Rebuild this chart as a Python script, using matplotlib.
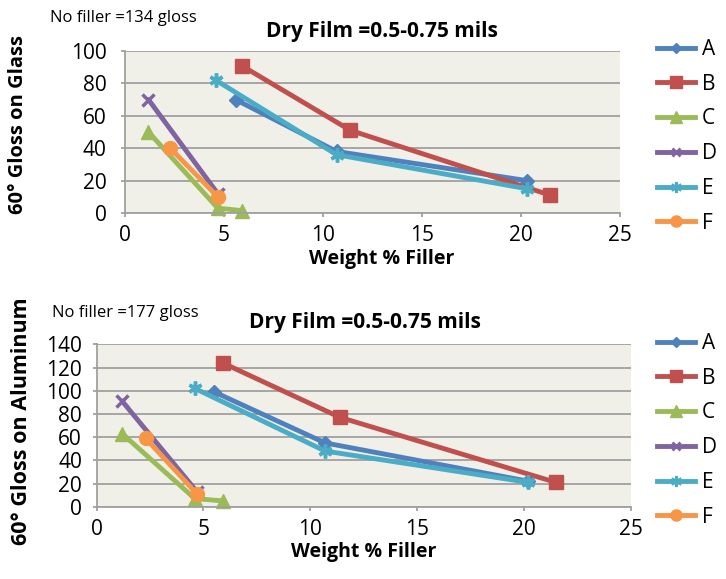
import numpy as np
import matplotlib.pyplot as plt
from matplotlib.lines import Line2D

plt.rcParams['font.family'] = ['Open Sans', 'DejaVu Sans']

serie = ['A', 'B', 'C', 'D', 'E', 'F']
kolory = ['#4F81BD', '#C0504D', '#9BBB59', '#8064A2', '#4BACC6', '#F79646']
markery = ['D', 's', '^', 'x', (6, 2, 0), 'o']
rozmiary = [7, 10, 10, 8, 10, 10]

# wykres gorny - szklo
szklo_x = {
    'A': [5.6, 10.7, 20.3],
    'B': [5.9, 11.4, 21.5],
    'C': [1.2, 4.7, 5.9],
    'D': [1.2, 4.7],
    'E': [4.6, 10.7, 20.3],
    'F': [2.3, 4.7],
}
szklo_y = {
    'A': [70, 38, 20],
    'B': [91, 51, 11],
    'C': [50, 3, 1.5],
    'D': [70, 12],
    'E': [82, 36, 15],
    'F': [40, 10],
}

# wykres dolny - aluminium
alu_x = {
    'A': [5.5, 10.7, 20.2],
    'B': [5.9, 11.4, 21.5],
    'C': [1.2, 4.6, 5.9],
    'D': [1.2, 4.7],
    'E': [4.6, 10.7, 20.2],
    'F': [2.3, 4.7],
}
alu_y = {
    'A': [99, 55, 22],
    'B': [124, 77, 21],
    'C': [63, 7, 5],
    'D': [91, 13],
    'E': [102, 48, 21],
    'F': [59, 11],
}

tlo = '#F0F0E8'
szary = '#A0A0A0'
W, H = 726, 579


def px(x, y):
    return x / W, 1 - y / H


def rysuj(ax, dane_x, dane_y, ymax, krok, pad_y):
    ax.set_facecolor(tlo)
    for s, k, m, r in zip(serie, kolory, markery, rozmiary):
        ax.plot(dane_x[s], dane_y[s], color=k, lw=3.5, marker=m, ms=r,
                mew=2.5 if m in ('x', (6, 2, 0)) else 1, mec=k,
                solid_capstyle='round', label=s, clip_on=False)
    ax.set_xlim(0, 25)
    ax.set_ylim(0, ymax)
    ax.set_xticks(np.arange(0, 26, 5))
    ax.set_yticks(np.arange(0, ymax + 1, krok))
    ax.grid(axis='y', color=szary, lw=1.3)
    ax.set_axisbelow(True)
    for s in ['top', 'right']:
        ax.spines[s].set_visible(False)
    for s in ['left', 'bottom']:
        ax.spines[s].set_color(szary)
        ax.spines[s].set_linewidth(1.3)
    ax.tick_params(colors=szary, labelcolor='black', labelsize=15,
                   length=3, width=1.3)
    ax.tick_params(axis='x', pad=5.5)
    ax.tick_params(axis='y', pad=pad_y)


fig = plt.figure(figsize=(W / 100, H / 100), dpi=100)

# gorny wykres
ax1 = fig.add_axes([124.7 / W, 1 - 213 / H, 495 / W, 162 / H])
rysuj(ax1, szklo_x, szklo_y, 100, 20, 10)
fig.text(*px(382, 31), 'Dry Film =0.5-0.75 mils', fontsize=15, fontweight='bold',
         ha='center', va='center')
fig.text(*px(381.5, 259), 'Weight % Filler', fontsize=14, fontweight='bold',
         ha='center', va='center')
fig.text(*px(18, 125), '60° Gloss on Glass', fontsize=14.5, fontweight='bold',
         ha='center', va='center', rotation=90)
fig.text(*px(50, 18), 'No filler =134 gloss', fontsize=12, va='center')

# dolny wykres
ax2 = fig.add_axes([96.5 / W, 1 - 506.7 / H, 534 / W, 162.4 / H])
rysuj(ax2, alu_x, alu_y, 140, 20, 7.5)
fig.text(*px(364.5, 322), 'Dry Film =0.5-0.75 mils', fontsize=15, fontweight='bold',
         ha='center', va='center')
fig.text(*px(363.5, 552), 'Weight % Filler', fontsize=14, fontweight='bold',
         ha='center', va='center')
fig.text(*px(22, 421), '60° Gloss on Aluminum', fontsize=15.5, fontweight='bold',
         ha='center', va='center', rotation=90)
fig.text(*px(52, 313), 'No filler =177 gloss', fontsize=12, va='center')

for gora in [38.8, 332.8]:
    uchwyty = [Line2D([0], [0], color=k, lw=3.5, marker=m, ms=r * 0.8,
                      mew=2 if m in ('x', (6, 2, 0)) else 1)
               for k, m, r in zip(kolory, markery, rozmiary)]
    fig.legend(uchwyty, serie, loc='upper left', bbox_to_anchor=px(657, gora),
               frameon=False, fontsize=15, handlelength=1.82,
               labelspacing=0.66, handletextpad=0.34, borderpad=0,
               borderaxespad=0)

fig.savefig('out.png', dpi=100)
